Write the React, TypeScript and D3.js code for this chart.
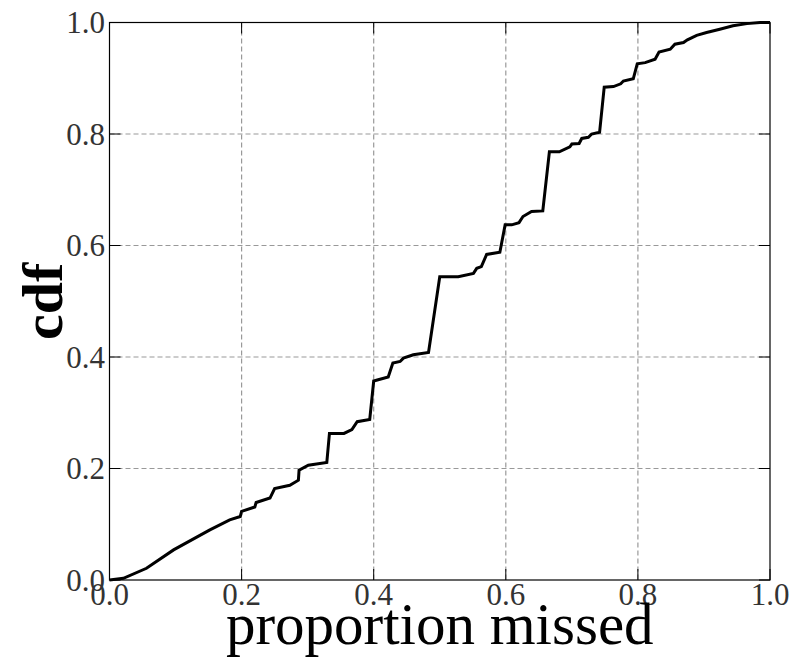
import React from "react";
import * as d3 from "d3";

const cdfX = [0, 0.021, 0.056, 0.097, 0.152, 0.182, 0.198, 0.2, 0.22, 0.222, 0.243, 0.25, 0.273, 0.286, 0.287, 0.301, 0.329, 0.333, 0.355, 0.367, 0.375, 0.394, 0.4, 0.422, 0.429, 0.44, 0.445, 0.46, 0.483, 0.5, 0.528, 0.551, 0.556, 0.563, 0.571, 0.591, 0.599, 0.609, 0.62, 0.626, 0.639, 0.656, 0.666, 0.681, 0.697, 0.7, 0.711, 0.715, 0.725, 0.73, 0.742, 0.749, 0.763, 0.774, 0.778, 0.793, 0.799, 0.811, 0.826, 0.832, 0.849, 0.856, 0.869, 0.875, 0.889, 0.904, 0.924, 0.944, 0.965, 0.985, 1.0];
const cdfY = [0, 0.003, 0.021, 0.054, 0.09, 0.108, 0.114, 0.123, 0.131, 0.139, 0.147, 0.164, 0.17, 0.179, 0.197, 0.206, 0.211, 0.263, 0.263, 0.27, 0.284, 0.288, 0.357, 0.364, 0.389, 0.392, 0.398, 0.404, 0.408, 0.544, 0.544, 0.55, 0.559, 0.562, 0.584, 0.588, 0.637, 0.637, 0.641, 0.652, 0.661, 0.662, 0.768, 0.768, 0.777, 0.782, 0.783, 0.792, 0.794, 0.8, 0.803, 0.884, 0.885, 0.89, 0.895, 0.899, 0.926, 0.928, 0.934, 0.947, 0.952, 0.961, 0.964, 0.969, 0.977, 0.982, 0.988, 0.994, 0.998, 1.0, 1.0];
const xTicks = [0, 0.2, 0.4, 0.6, 0.8, 1.0];
const yTicks = [0, 0.2, 0.4, 0.6, 0.8, 1.0];
const xLabel = "proportion missed";
const yLabel = "cdf";

export default function App() {
  const W = 793, H = 658;
  const left = 109.5, right = 770, top = 22.5, bottom = 580;
  const x = d3.scaleLinear().domain([0, 1]).range([left, right]);
  const y = d3.scaleLinear().domain([0, 1]).range([bottom, top]);
  const pts = cdfX.map((v, i) => [v, cdfY[i]] as [number, number]);
  const line = d3.line<[number, number]>().x(d => x(d[0])).y(d => y(d[1]));
  const font = "'Liberation Serif', 'Times New Roman', serif";
  const tickLen = 11;
  return (
    <svg width={W} height={H} style={{ position: "absolute", left: 0, top: 0, background: "#fff" }}>
      <rect x={0} y={0} width={W} height={H} fill="#fff" />
      {xTicks.slice(1, -1).map(t => (
        <line key={"gx" + t} x1={x(t)} x2={x(t)} y1={top} y2={bottom} stroke="#999" strokeWidth={1.2} strokeDasharray="5,3" />
      ))}
      {yTicks.slice(1, -1).map(t => (
        <line key={"gy" + t} x1={left} x2={right} y1={y(t)} y2={y(t)} stroke="#999" strokeWidth={1.2} strokeDasharray="5,3" />
      ))}
      <path d={line(pts) || ""} fill="none" stroke="#000" strokeWidth={3} strokeLinejoin="miter" />
      <rect x={left} y={top} width={right - left} height={bottom - top} fill="none" stroke="#000" strokeWidth={1.2} />
      {xTicks.map(t => (
        <g key={"tx" + t}>
          <line x1={x(t)} x2={x(t)} y1={bottom} y2={bottom - tickLen} stroke="#000" strokeWidth={1} />
          <line x1={x(t)} x2={x(t)} y1={top} y2={top + tickLen} stroke="#000" strokeWidth={1} />
          <text x={x(t)} y={605} textAnchor="middle" fontFamily={font} fontSize={31} fill="#333">{t.toFixed(1)}</text>
        </g>
      ))}
      {yTicks.map(t => (
        <g key={"ty" + t}>
          <line x1={left} x2={left + tickLen} y1={y(t)} y2={y(t)} stroke="#000" strokeWidth={1} />
          <line x1={right} x2={right - tickLen} y1={y(t)} y2={y(t)} stroke="#000" strokeWidth={1} />
          <text x={105} y={y(t)} dy="0.34em" textAnchor="end" fontFamily={font} fontSize={31} fill="#333">{t.toFixed(1)}</text>
        </g>
      ))}
      <text x={(left + right) / 2} y={644} textAnchor="middle" fontFamily={font} fontSize={59} fill="#000">{xLabel}</text>
      <text transform={`translate(62, ${(top + bottom) / 2}) rotate(-90)`} textAnchor="middle" fontFamily={font} fontSize={58} fontWeight="bold" fill="#000">{yLabel}</text>
    </svg>
  );
}
